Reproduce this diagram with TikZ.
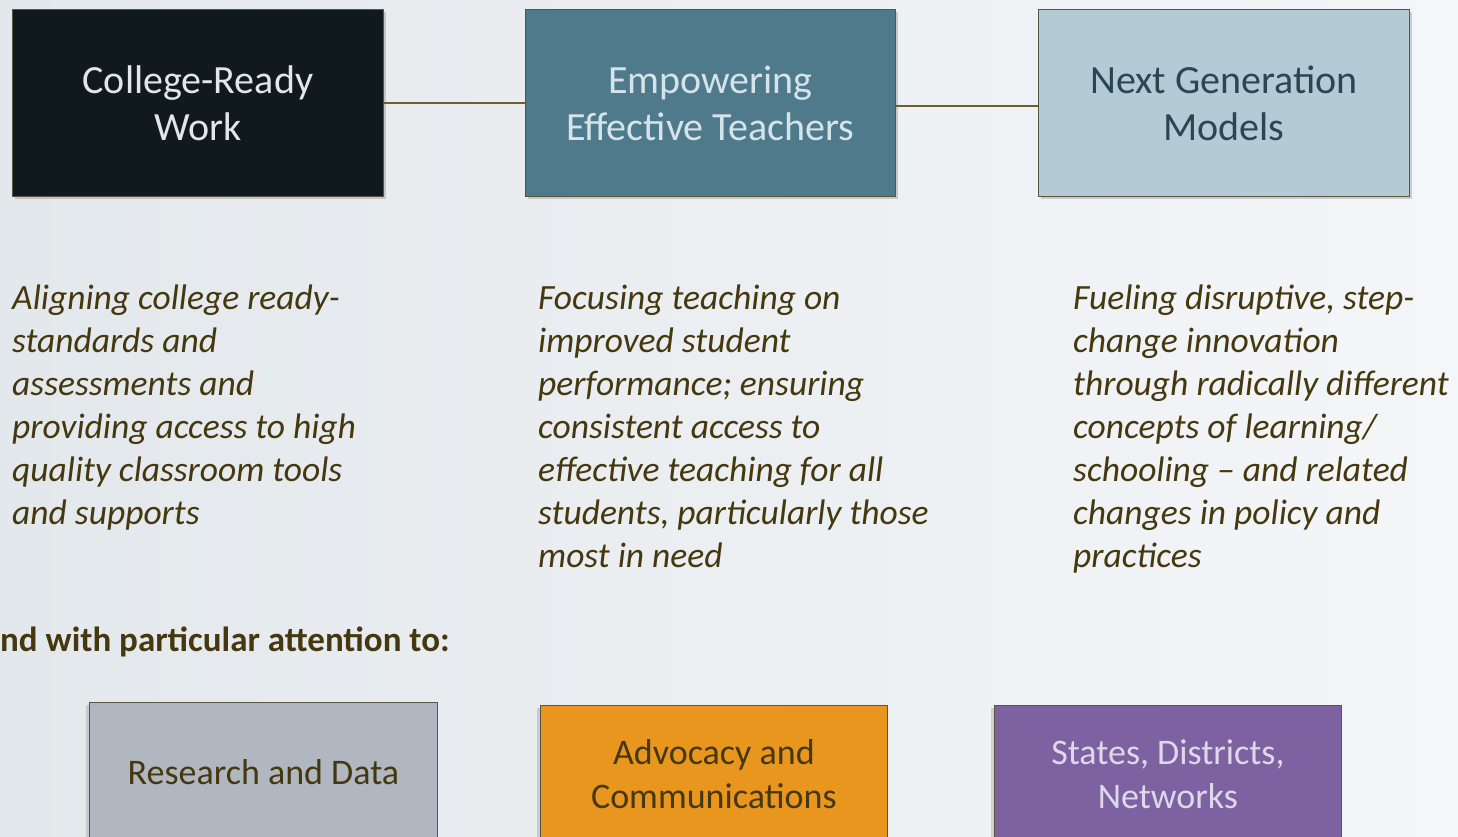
\documentclass[tikz,border=0pt]{standalone}
\usepackage{fontspec}
\setmainfont{Carlito}
\usetikzlibrary{shadows}
\definecolor{bgA}{HTML}{E3E8EC}
\definecolor{bgB}{HTML}{F4F6F8}
\definecolor{olive}{HTML}{45380F}
\definecolor{linec}{HTML}{6E5E32}
\definecolor{boxborder}{HTML}{5A5540}
\definecolor{cA}{HTML}{101A1E}
\definecolor{cB}{HTML}{4E7A8C}
\definecolor{cC}{HTML}{B4CBD6}
\definecolor{cD}{HTML}{B0B7C1}
\definecolor{cE}{HTML}{E8961E}
\definecolor{cF}{HTML}{7E61A0}
\definecolor{tA}{HTML}{E0E7EB}
\definecolor{tB}{HTML}{D6E4EA}
\definecolor{tC}{HTML}{2A4553}
\definecolor{tF}{HTML}{DDD8EA}
\tikzset{
  topbox/.style={draw=boxborder, line width=0.8pt, anchor=north west,
    minimum width=371pt, minimum height=187pt, inner sep=0pt, align=center,
    font=\fontsize{40}{47}\selectfont,
    drop shadow={opacity=0.35, shadow xshift=3pt, shadow yshift=-3pt}},
  botbox/.style={draw=boxborder, line width=0.8pt, anchor=north west,
    minimum width=348pt, inner sep=0pt, align=center,
    font=\fontsize{36}{44}\selectfont,
    drop shadow={opacity=0.3, shadow xshift=-3pt, shadow yshift=-3pt}},
  desc/.style={anchor=north west, inner sep=0pt, align=left, text=olive,
    font=\fontsize{35.5}{43}\selectfont\itshape},
  link/.style={draw=linec, line width=1.6pt}
}
\begin{document}
\begin{tikzpicture}[x=1pt,y=-1pt]
\useasboundingbox (0,0) rectangle (1458,836);
\clip (0,0) rectangle (1458,836);
\shade[left color=bgA, right color=bgB] (0,0) rectangle (1458,836);
% top boxes
\node[topbox, fill=cA, text=tA] (b1) at (12,9) {College-Ready\\Work};
\node[topbox, fill=cB, text=tB, minimum width=370pt] (b2) at (525,9) {Empowering\\Effective Teachers};
\node[topbox, fill=cC, text=tC] (b3) at (1038,9) {Next Generation\\Models};
\draw[link] (b1.east) -- (b2.west);
\draw[link] ([yshift=-3pt]b2.east) -- ([yshift=-3pt]b3.west);
% descriptions
\node[desc] (d1) at (12,285) {Aligning college ready-\\standards and\\assessments and\\providing access to high\\quality classroom tools\\and supports};
\node[desc] (d2) at (538,285) {Focusing teaching on\\improved student\\performance; ensuring\\consistent access to\\effective teaching for all\\students, particularly those\\most in need};
\node[desc] (d3) at (1073,285) {Fueling disruptive, step-\\change innovation\\through radically different\\concepts of learning/\\schooling -- and related\\changes in policy and\\practices};
% heading
\node[anchor=north west, inner sep=0pt, text=olive, font=\fontsize{35}{40}\selectfont\bfseries] (hd) at (0,627) {nd with particular attention to:};
% bottom boxes
\node[botbox, fill=cD, text=olive, minimum height=140pt] (r1) at (89,702) {Research and Data};
\node[botbox, fill=cE, text=olive, minimum width=347pt, minimum height=138pt] (r2) at (540,705) {Advocacy and\\Communications};
\node[botbox, fill=cF, text=tF, minimum width=347pt, minimum height=138pt] (r3) at (994,705) {States, Districts,\\Networks};
\end{tikzpicture}
\end{document}
